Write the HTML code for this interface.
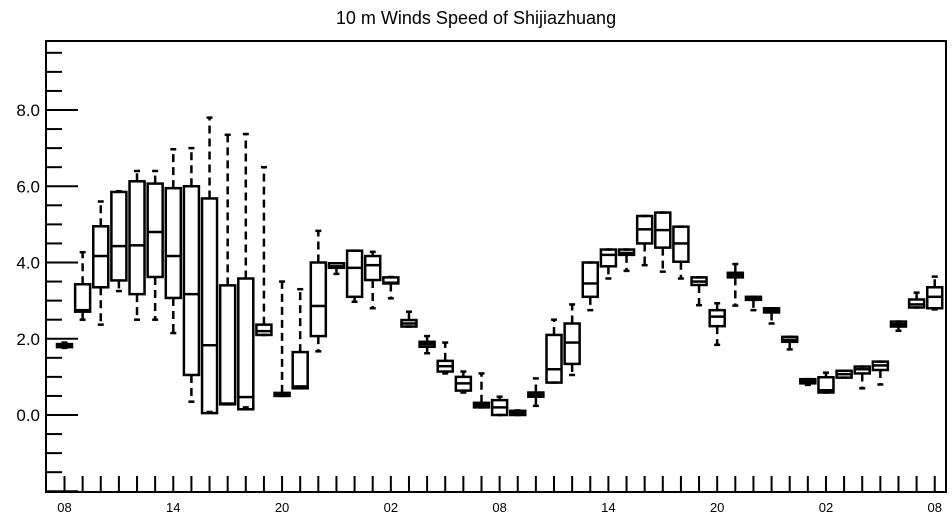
<!DOCTYPE html>
<html><head><meta charset="utf-8"><style>
html,body{margin:0;padding:0;background:#fff;}
svg{display:block;font-family:"Liberation Sans",sans-serif;}
</style></head><body>
<svg id="chart" width="952" height="520" viewBox="0 0 952 520">
<text x="476" y="24" text-anchor="middle" font-size="18">10 m Winds Speed of Shijiazhuang</text>
<g id="plot"></g>
</svg>
<script>
const hourLabels=["08","14","20","02","08","14","20","02","08"];
const yTicks=["0.0","2.0","4.0","6.0","8.0"];
const mins=[1.76,2.5,2.37,3.25,2.5,2.5,2.15,0.35,0.08,0.28,0.2,2.1,0.5,0.7,1.67,3.7,2.97,2.8,3.06,2.32,1.62,1.09,0.59,0.2,0.0,0.0,0.24,0.85,1.05,2.75,3.58,3.78,3.93,3.76,3.58,2.88,1.84,2.87,2.75,2.4,1.72,0.79,0.59,0.98,0.7,0.8,2.21,2.82,2.77];
const q1s=[1.78,2.71,3.35,3.53,3.17,3.62,3.07,1.05,0.05,0.28,0.15,2.1,0.5,0.7,2.07,3.86,3.1,3.54,3.45,2.32,1.79,1.14,0.64,0.2,0.0,0.0,0.48,0.85,1.34,3.1,3.9,4.2,4.5,4.39,4.02,3.41,2.33,3.61,3.02,2.69,1.92,0.83,0.59,0.98,1.09,1.18,2.32,2.82,2.8];
const medians=[1.82,2.75,4.17,4.43,4.45,4.8,4.17,3.17,1.83,0.3,0.47,2.2,0.55,0.75,2.86,3.9,3.86,3.93,3.47,2.4,1.86,1.28,0.83,0.26,0.2,0.05,0.53,1.2,1.9,3.45,4.2,4.25,4.87,4.85,4.5,3.5,2.58,3.67,3.05,2.74,1.97,0.88,0.65,1.07,1.2,1.3,2.38,2.9,3.1];
const q3s=[1.86,3.43,4.95,5.85,6.13,6.07,5.95,6.0,5.68,3.4,3.58,2.37,0.58,1.65,4.0,3.98,4.31,4.17,3.61,2.49,1.92,1.42,1.0,0.32,0.39,0.11,0.59,2.1,2.4,4.0,4.34,4.34,5.22,5.31,4.94,3.61,2.75,3.73,3.1,2.8,2.05,0.94,0.99,1.16,1.27,1.4,2.45,3.03,3.35];
const maxs=[1.9,4.27,5.6,5.87,6.4,6.4,6.97,7.0,7.8,7.35,7.37,6.5,3.5,3.3,4.83,3.98,4.31,4.28,3.62,2.71,2.07,1.9,1.14,1.09,0.48,0.12,0.96,2.5,2.9,4.0,4.34,4.34,5.22,5.31,4.94,3.61,2.93,3.96,3.1,2.8,2.05,0.94,1.11,1.16,1.27,1.4,2.45,3.21,3.63];

const L=46,R=946,T=41,B=492;
const x=i=>64.5+i*18.13;
const y=v=>415-38.125*v;
const g=document.getElementById('plot');
const NS='http://www.w3.org/2000/svg';
function mk(tag,attrs){const e=document.createElementNS(NS,tag);for(const k in attrs)e.setAttribute(k,attrs[k]);g.appendChild(e);return e;}
const frame=mk('rect',{x:L,y:T,width:R-L,height:B-T,fill:'none',stroke:'#000','stroke-width':2});


// y ticks
for(let k=0;k<24;k++){const v=-2+k*0.5;if(y(v)<T+2)continue;const major=(k%4===0);
 const t=mk('line',{x1:L,x2:L+(major?32:16),y1:y(v),y2:y(v),stroke:'#000','stroke-width':2});
 
 }
yTicks.forEach(s=>{const v=parseFloat(s);const t=mk('text',{x:40,y:y(v)+6,'text-anchor':'end','font-size':17});t.textContent=s;
 
 });
// x ticks
for(let i=0;i<medians.length;i++){const t=mk('line',{x1:x(i),x2:x(i),y1:B,y2:B-16,stroke:'#000','stroke-width':2});
 
 }
hourLabels.forEach((s,j)=>{const t=mk('text',{x:x(j*6),y:512,'text-anchor':'middle','font-size':13});t.textContent=s;
 
 });
// boxes
const bw=15;
for(let i=0;i<medians.length;i++){const cx=x(i);
 const w1=mk('line',{x1:cx,x2:cx,y1:y(q3s[i]),y2:y(maxs[i]),stroke:'#000','stroke-width':2.5,'stroke-dasharray':'8 5'});
 
 
 const w2=mk('line',{x1:cx,x2:cx,y1:y(q1s[i]),y2:y(mins[i]),stroke:'#000','stroke-width':2.5,'stroke-dasharray':'8 5'});
 
 
 const c1=mk('line',{x1:cx-3,x2:cx+3,y1:y(maxs[i]),y2:y(maxs[i]),stroke:'#000','stroke-width':2.5});
 
 
 const c2=mk('line',{x1:cx-3,x2:cx+3,y1:y(mins[i]),y2:y(mins[i]),stroke:'#000','stroke-width':2.5});
 
 
 const b=mk('rect',{x:cx-bw/2,y:y(q3s[i]),width:bw,height:Math.max(1,y(q1s[i])-y(q3s[i])),fill:'none',stroke:'#000','stroke-width':2.5});
 
 
 const m=mk('line',{x1:cx-bw/2,x2:cx+bw/2,y1:y(medians[i]),y2:y(medians[i]),stroke:'#000','stroke-width':2.5});
 
 
}
</script>
</body></html>
